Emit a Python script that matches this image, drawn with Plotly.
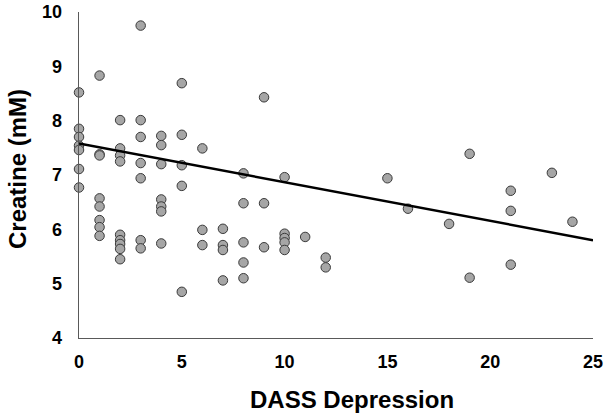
import plotly.graph_objects as go

# Data
dass_x = [0, 0, 0, 0, 0, 0, 0,
          1, 1, 1, 1, 1, 1, 1, 1,
          2, 2, 2, 2, 2, 2, 2, 2, 2,
          3, 3, 3, 3, 3, 3, 3,
          4, 4, 4, 4, 4, 4, 4,
          5, 5, 5, 5, 5,
          6, 6, 6,
          7, 7, 7, 7,
          8, 8, 8, 8, 8,
          9, 9, 9,
          10, 10, 10, 10, 10,
          11,
          12, 12,
          15, 16, 18,
          19, 19,
          21, 21, 21,
          23, 24]
creatine_y = [8.52, 7.85, 7.70, 7.54, 7.46, 7.11, 6.77,
              8.83, 7.38, 7.36, 6.57, 6.42, 6.17, 6.04, 5.88,
              8.01, 7.49, 7.36, 7.25, 5.90, 5.80, 5.73, 5.64, 5.45,
              9.75, 8.01, 7.70, 7.22, 6.94, 5.80, 5.65,
              7.72, 7.55, 7.20, 6.55, 6.42, 6.33, 5.74,
              8.69, 7.74, 7.18, 6.80, 4.85,
              7.49, 5.99, 5.71,
              6.01, 5.71, 5.62, 5.06,
              7.03, 6.48, 5.76, 5.39, 5.10,
              8.43, 6.48, 5.67,
              6.96, 5.92, 5.84, 5.76, 5.62,
              5.86,
              5.48, 5.30,
              6.94, 6.38, 6.10,
              7.39, 5.11,
              6.71, 6.34, 5.35,
              7.04, 6.14]

# Linear trend line as drawn in the reference
trend_intercept = 7.58
trend_slope = -0.0712
trend_x = [0, 25]
trend_y = [trend_intercept + trend_slope * v for v in trend_x]

x_ticks = [0, 5, 10, 15, 20, 25]
y_ticks = [4, 5, 6, 7, 8, 9, 10]

FONT = "Arial, Liberation Sans, Helvetica, sans-serif"

fig = go.Figure()
fig.add_trace(go.Scatter(
    x=dass_x, y=creatine_y, mode="markers",
    marker=dict(size=9.5, color="#a6a6a6", line=dict(color="#3a3a3a", width=1)),
    showlegend=False, cliponaxis=False,
))
fig.add_trace(go.Scatter(
    x=trend_x, y=trend_y, mode="lines",
    line=dict(color="#000000", width=2.5),
    showlegend=False,
))

W, H = 608, 416
L, R, T, B = 79, 15, 12, 78
pw, ph = W - L - R, H - T - B

fig.update_layout(
    width=W, height=H,
    margin=dict(l=L, r=R, t=T, b=B, pad=0, autoexpand=False),
    paper_bgcolor="white", plot_bgcolor="white",
    font=dict(family=FONT, color="#000000"),
    xaxis=dict(
        range=[0, 25], tickvals=x_ticks, ticks="", showgrid=False, zeroline=False,
        showline=True, linecolor="#595959", linewidth=1.3, automargin=False,
        tickfont=dict(family=FONT, size=18, color="#000000", weight="bold"),
        ticklabelstandoff=7, ticklabeloverflow="allow",
    ),
    yaxis=dict(
        range=[4, 10], tickvals=y_ticks, ticks="", showgrid=False, zeroline=False,
        showline=True, linecolor="#595959", linewidth=1.3, automargin=False,
        tickfont=dict(family=FONT, size=18, color="#000000", weight="bold"),
        ticklabelstandoff=12, ticklabeloverflow="allow",
    ),
    annotations=[
        dict(text="<b>DASS Depression</b>", xref="paper", yref="paper",
             x=(351.7 - L) / pw, y=(338 - 399) / ph, xanchor="center", yanchor="middle",
             showarrow=False, font=dict(family=FONT, size=24, color="#000000")),
        dict(text="<b>Creatine (mM)</b>", xref="paper", yref="paper",
             x=(17 - L) / pw, y=(338 - 169) / ph, xanchor="center", yanchor="middle",
             textangle=-90, showarrow=False,
             font=dict(family=FONT, size=24, color="#000000")),
    ],
)

fig.write_html("out.html",
               config={"displayModeBar": False, "staticPlot": True},
               post_script="document.body.style.margin='0';document.body.style.overflow='hidden';")
